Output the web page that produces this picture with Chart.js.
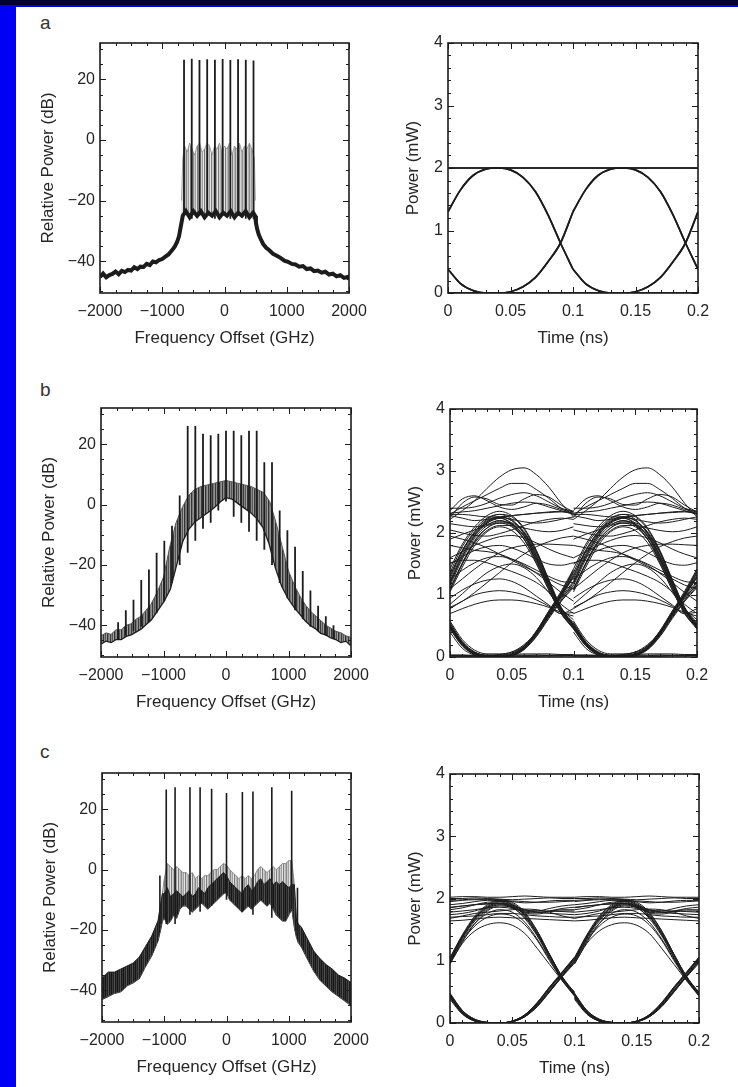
<!DOCTYPE html>
<html>
<head>
<meta charset="utf-8">
<title>WDM spectra and eye diagrams</title>
<script src="https://cdn.jsdelivr.net/npm/chart.js@4.4.1/dist/chart.umd.min.js"></script>
<style>
  html, body { margin: 0; padding: 0; background: #fff; }
  #page { position: relative; width: 738px; height: 1087px; overflow: hidden; background: #fff;
          font-family: "Liberation Sans", Arial, Helvetica, sans-serif; }
  .edge-left { position: absolute; left: 0; top: 0; width: 16px; height: 1087px; background: #0000f5; }
  .edge-top { position: absolute; left: 0; top: 0; width: 738px; height: 5px; background: #000030; }
  .edge-top2 { position: absolute; left: 0; top: 5px; width: 738px; height: 2px; background: #0000e0; }
  .panel { position: absolute; }
  .tag { position: absolute; font-size: 19px; line-height: 19px; color: #333; }
</style>
</head>
<body>
<div id="page">
  <div class="edge-left"></div>
  <div class="edge-top"></div>
  <div class="edge-top2"></div>
  <div class="tag" style="left:40px; top:13px;">a</div>
  <div class="tag" style="left:40px; top:380px;">b</div>
  <div class="tag" style="left:40px; top:742px;">c</div>
</div>
<script>
// ---------------- axis ticks ----------------
const freqTicks = [-2000, -1000, 0, 1000, 2000];
const dbTicks = [-40, -20, 0, 20];
const timeTicks = [0, 0.05, 0.1, 0.15, 0.2];
const powerTicks = [0, 1, 2, 3, 4];

// ---------------- (a) spectrum ----------------
const chanFreqA = [-650, -526, -402, -278, -154, -30, 94, 218, 342, 466];
const chanPeakA = [26.5, 26.8, 26.4, 26.6, 26.5, 26.7, 26.4, 26.6, 26.5, 26.2];
const chanBaseA = [-25, -26, -25, -25, -26, -25, -26, -25, -26, -26];

const floorFreqA = [-2000, -1950, -1900, -1850, -1800, -1750, -1700, -1650, -1600, -1550, -1500, -1450, -1400, -1350, -1300, -1250, -1200, -1150, -1100, -1050, -1000, -950, -900, -850, -800, -760, -730, -710, -690, -670,
  -620, -560, -500, -440, -380, -320, -260, -200, -140, -80, -20, 40, 100, 160, 220, 280, 340, 400, 460,
  490, 505, 525, 550, 580, 620, 670, 720, 780, 840, 900, 960, 1020, 1080, 1140, 1200, 1260, 1320, 1380, 1440, 1500, 1560, 1620, 1680, 1740, 1800, 1860, 1920, 1980, 2000];
const floorDbA = [-45.2, -44.1, -45.3, -44.6, -44.2, -43.4, -44.3, -43.2, -43.6, -42.9, -43.1, -42.0, -42.6, -41.8, -41.9, -40.9, -41.3, -40.1, -40.4, -39.6, -39.3, -38.5, -37.8, -36.6, -35.2, -33.6, -31.7, -29.4, -27.2, -25,
  -23.5, -25.5, -23.5, -25, -23.5, -25.5, -24, -25, -23.5, -25.5, -24, -25, -23.5, -25.5, -24, -25, -23.5, -25.5, -24,
  -25, -27.3, -29.4, -31.2, -32.6, -34.3, -35.6, -36.4, -37.6, -38.2, -38.9, -39.8, -40.2, -40.9, -41.1, -41.8, -41.6, -42.6, -42.4, -43.3, -43.1, -43.8, -43.5, -44.4, -44.1, -45, -44.6, -45.5, -45.2, -46];

const sbFreqA = [-690, -670, -640, -600, -560, -520, -480, -440, -400, -360, -320, -280, -240, -200, -160, -120, -80, -40, 0, 40, 80, 120, 160, 200, 240, 280, 320, 360, 400, 440, 480, 495];
const sbTopA = [-20, -6, -2, -4, -1, -3, -5, -2, -1, -4, -3, -1, -2, -5, -2, -3, -1, -4, -2, -3, -1, -5, -2, -3, -1, -4, -2, -3, -1, -3, -6, -20];
const sbBottomA = [-27, -25, -24, -24, -25, -24, -24, -25, -24, -24, -25, -24, -24, -25, -24, -24, -25, -24, -24, -25, -24, -24, -25, -24, -24, -25, -24, -24, -25, -24, -25, -27];

// ---------------- (b) spectrum ----------------
const chanFreqB = [-1726, -1603, -1480, -1356, -1233, -1110, -987, -864, -741, -613, -491, -368, -245, -123, 0, 123, 245, 368, 491, 613, 736, 859, 982, 1105, 1228, 1351, 1474, 1597, 1720];
const chanPeakB = [-39, -35, -31.5, -25, -21.5, -16, -12, -7, 3, 26, 26, 23.5, 23, 23.5, 24.5, 24.5, 23, 24.5, 24.5, 14, 14, -2, -8.5, -14, -22, -28.5, -33.5, -37, -40];
const chanBaseB = [-44.5, -43.5, -42, -40.5, -39, -36, -32, -26, -20, -16, -12, -8, -6, -2, 1, -4, -6, -9, -12, -15, -20, -26, -31, -35, -38, -40.5, -42, -43.5, -44.5];

const bodyFreqB = [-2000, -1920, -1840, -1760, -1680, -1600, -1520, -1440, -1360, -1280, -1200, -1100, -1000, -900, -800, -700, -600, -500, -400, -300,
  -200, -100, 0, 100, 200, 300, 400, 500, 600, 700, 800, 900, 1000, 1100, 1200, 1280, 1360, 1440, 1520, 1600, 1680, 1760, 1840, 1920, 2000];
const bodyTopB = [-43.5, -42.5, -43, -41.5, -41.5, -40, -39.5, -38, -37, -35, -33, -29, -24, -14, -6, -1, 3, 5, 6, 6.5,
  7, 7.5, 8, 7.5, 7, 6.5, 6, 5, 4, 1, -6, -14, -22, -27, -31, -33.5, -35.5, -37, -38.5, -40, -41, -42, -42.5, -43.5, -44];
const bodyLowB = [-46, -45, -45.5, -44.5, -44.5, -43.5, -43, -42, -41, -39.5, -38, -35, -32, -28, -20, -12, -8, -5.5, -4, -2.5,
  -1, 1, 2.5, 2, 0.5, -1, -2.5, -4.5, -7.5, -13, -21, -27, -31, -34, -36.5, -38.5, -40, -41, -42.5, -43, -44, -44.5, -45.5, -45, -46.5];

// ---------------- (c) spectrum ----------------
const chanFreqC = [-968, -826, -587, -424, -239, 0, 255, 425, 728, 1047];
const chanPeakC = [26.5, 27.3, 27.3, 27.3, 26.8, 25.4, 25.7, 25.9, 27.3, 26.1];
const chanBaseC = [-18, -18, -15, -14, -12, -10, -14, -15, -16, -12];
const spurFreqC = [-1070, 1140];
const spurTopC = [-2, -6];
const spurBaseC = [-18, -22];

const bodyFreqC = [-2000, -1900, -1800, -1700, -1600, -1500, -1400, -1300, -1200, -1100, -1060, -1030,
  -1000, -950, -900, -850, -800, -750, -700, -650, -600, -550, -500, -450, -400, -350, -300, -250, -200, -150, -100, -50,
  0, 50, 100, 150, 200, 250, 300, 350, 400, 450, 500, 550, 600, 650, 700, 750, 800, 850, 900, 950, 1000, 1050,
  1090, 1120, 1150, 1200, 1300, 1400, 1500, 1600, 1700, 1800, 1900, 2000];
const bodyTopC = [-36, -34, -34, -33, -32, -31, -29, -25.5, -22, -17, -12, -8,
  -3, 2, 1, 0, 1, 0, -1, -1, -2, -1, -3, -2, -3, -2, -2, -1, 0, 0, 1, 2,
  1.5, 0, -1, -2, -3, -2, -3, -2, -3, -2, 0, 1, 0, -1, 0, 1, 0, 1, 2, 2, 3, 3,
  -5, -16, -18, -19, -23, -27, -29.5, -31.5, -33, -35, -36, -37.5];
const coreTopC = [-36, -34, -34, -33, -32, -31, -29, -25.5, -22, -17, -12, -8,
  -8, -6, -9, -8, -7, -8, -9, -8, -7, -9, -8, -6, -7, -8, -6, -5, -4, -3, -2, -1,
  -2, -4, -5, -6, -7, -8, -6, -5, -7, -6, -4, -3, -5, -4, -3, -5, -4, -5, -4, -5, -6, -5,
  -5, -16, -18, -19, -23, -27, -29.5, -31.5, -33, -35, -36, -37.5];
const bodyLowC = [-43, -42, -41, -40.5, -38.5, -37.5, -36, -32, -28.5, -23.5, -20, -17,
  -16, -18, -17, -15, -16, -13, -12, -12, -13, -14, -13, -12, -11, -12, -13, -12, -11, -10, -9, -8,
  -7.5, -10, -11, -12, -13, -14, -13, -12, -13, -12, -11, -10, -11, -12, -11, -13, -15, -16, -17, -17, -15, -13,
  -19, -22, -24, -25.5, -29.5, -33.5, -36.5, -38.5, -40.5, -42, -43.5, -45];

// ---------------- eye diagrams: one bit slot, repeated over two slots ----------------
const bitPeriod = 0.1;
const eyeTime = [0, 0.01, 0.02, 0.03, 0.04, 0.05, 0.06, 0.07, 0.08, 0.09, 0.1];

const eyeA = [
  [2, 2, 2, 2, 2, 2, 2, 2, 2, 2, 2],
  [1.3, 1.65, 1.88, 1.98, 2.0, 2.0, 2.0, 2.0, 2.0, 2.0, 2.0],
  [1.3, 1.65, 1.88, 1.98, 2.0, 1.97, 1.85, 1.62, 1.25, 0.8, 0.38],
  [2, 2, 2, 2, 2.0, 1.97, 1.85, 1.62, 1.25, 0.8, 0.38],
  [0.38, 0.15, 0.04, 0, 0, 0.02, 0.1, 0.25, 0.5, 0.8, 1.3],
  [0.38, 0.15, 0.04, 0, 0, 0, 0, 0, 0, 0, 0],
  [0, 0, 0, 0, 0, 0.02, 0.1, 0.25, 0.5, 0.8, 1.3],
  [0, 0, 0, 0, 0, 0, 0, 0, 0, 0, 0]
];

const eyeB = [
  // mark slots between transitions
  [1.15, 1.58, 1.92, 2.12, 2.2, 2.12, 1.9, 1.55, 1.12, 0.75, 0.5],
  [1.3, 1.72, 2.02, 2.22, 2.3, 2.22, 1.98, 1.62, 1.18, 0.78, 0.52],
  [1.05, 1.45, 1.8, 2.02, 2.1, 2.04, 1.84, 1.5, 1.08, 0.7, 0.45],
  [1.42, 1.82, 2.1, 2.28, 2.35, 2.28, 2.08, 1.72, 1.25, 0.8, 0.55],
  [1.22, 1.66, 1.98, 2.18, 2.26, 2.2, 2.02, 1.7, 1.24, 0.8, 0.5],
  [1.1, 1.52, 1.88, 2.08, 2.16, 2.16, 2.0, 1.68, 1.22, 0.78, 0.48],
  [1.18, 1.62, 1.95, 2.16, 2.24, 2.16, 1.95, 1.6, 1.15, 0.76, 0.5],
  [1.26, 1.7, 2.0, 2.18, 2.24, 2.14, 1.9, 1.52, 1.08, 0.7, 0.47],
  [1.08, 1.5, 1.86, 2.08, 2.18, 2.14, 1.96, 1.64, 1.2, 0.78, 0.52],
  [1.36, 1.78, 2.06, 2.24, 2.3, 2.26, 2.06, 1.7, 1.22, 0.78, 0.53],
  [2.28, 2.24, 2.2, 2.22, 2.25, 2.2, 2.0, 1.64, 1.18, 0.76, 0.48],
  [2.15, 2.12, 2.1, 2.14, 2.2, 2.14, 1.94, 1.58, 1.14, 0.74, 0.46],
  [1.9, 1.98, 2.05, 2.12, 2.16, 2.1, 1.9, 1.56, 1.12, 0.72, 0.46],
  [1.2, 1.62, 1.96, 2.16, 2.24, 2.28, 2.3, 2.32, 2.33, 2.34, 2.32],
  [1.32, 1.72, 2.02, 2.2, 2.26, 2.22, 2.18, 2.16, 2.18, 2.22, 2.26],
  [1.1, 1.5, 1.84, 2.04, 2.12, 2.12, 2.08, 2.04, 2.02, 2.04, 2.1],
  // space slots
  [0.52, 0.22, 0.06, 0.01, 0, 0.02, 0.12, 0.34, 0.64, 0.92, 1.2],
  [0.58, 0.28, 0.11, 0.05, 0.05, 0.08, 0.18, 0.4, 0.66, 0.9, 1.12],
  [0.4, 0.14, 0.03, 0, 0.01, 0.04, 0.16, 0.4, 0.72, 1.02, 1.38],
  [0.48, 0.2, 0.05, 0.01, 0, 0.03, 0.14, 0.38, 0.7, 1.0, 1.3],
  [0.55, 0.25, 0.08, 0.02, 0.01, 0.04, 0.15, 0.36, 0.66, 0.96, 1.22],
  [0.5, 0.21, 0.06, 0.02, 0.02, 0.05, 0.17, 0.42, 0.74, 1.06, 1.42],
  [0.47, 0.19, 0.05, 0.01, 0, 0.03, 0.13, 0.36, 0.68, 0.98, 1.28],
  [0.52, 0.23, 0.07, 0.02, 0.01, 0.03, 0.12, 0.33, 0.62, 0.9, 1.15],
  [0.46, 0.18, 0.04, 0, 0, 0.02, 0.14, 0.38, 0.7, 1.0, 1.33],
  [0.5, 0.22, 0.06, 0.02, 0.01, 0.04, 0.15, 0.4, 0.72, 1.02, 1.36],
  [0.45, 0.18, 0.04, 0, 0, 0, 0.01, 0.01, 0.02, 0.02, 0.02],
  [0.5, 0.2, 0.05, 0.01, 0.01, 0.02, 0.02, 0.03, 0.03, 0.03, 0.02],
  [0.55, 0.24, 0.08, 0.03, 0.03, 0.04, 0.05, 0.05, 0.05, 0.04, 0.04],
  [0.02, 0.01, 0.01, 0, 0, 0.03, 0.14, 0.38, 0.7, 0.98, 1.3],
  [0.02, 0.02, 0.02, 0.02, 0.03, 0.06, 0.18, 0.42, 0.74, 1.04, 1.4],
  [0.03, 0.03, 0.03, 0.03, 0.04, 0.08, 0.2, 0.4, 0.68, 0.95, 1.16],
  [0.03, 0.03, 0.02, 0.02, 0.02, 0.03, 0.03, 0.03, 0.02, 0.02, 0.03],
  // overshoot traces above the mark level
  [2.22, 2.36, 2.52, 2.72, 2.9, 3.02, 3.05, 2.94, 2.74, 2.48, 2.26],
  [2.3, 2.42, 2.52, 2.62, 2.72, 2.8, 2.8, 2.7, 2.56, 2.4, 2.3],
  [2.36, 2.55, 2.6, 2.52, 2.42, 2.38, 2.42, 2.48, 2.45, 2.38, 2.34],
  [2.25, 2.48, 2.58, 2.55, 2.46, 2.45, 2.55, 2.62, 2.58, 2.45, 2.34],
  [2.4, 2.4, 2.42, 2.48, 2.56, 2.62, 2.65, 2.6, 2.5, 2.4, 2.35],
  [2.32, 2.34, 2.36, 2.4, 2.44, 2.48, 2.5, 2.48, 2.42, 2.36, 2.3],
  // distorted traces inside the eye
  [0.7, 0.78, 0.85, 0.9, 0.92, 0.92, 0.9, 0.86, 0.8, 0.72, 0.66],
  [0.78, 0.9, 1.0, 1.05, 1.07, 1.05, 1.0, 0.92, 0.82, 0.7, 0.72],
  [0.95, 1.08, 1.18, 1.24, 1.26, 1.22, 1.12, 0.98, 0.84, 0.7, 0.78],
  [0.85, 1.02, 1.2, 1.36, 1.46, 1.5, 1.44, 1.28, 1.04, 0.78, 0.6],
  [1.52, 1.56, 1.56, 1.52, 1.45, 1.38, 1.3, 1.2, 1.05, 0.85, 0.7],
  [1.95, 1.9, 1.84, 1.76, 1.66, 1.56, 1.46, 1.36, 1.26, 1.16, 1.1],
  [1.8, 1.76, 1.72, 1.7, 1.66, 1.58, 1.48, 1.35, 1.2, 1.04, 0.9],
  [0.8, 0.9, 1.04, 1.2, 1.36, 1.52, 1.66, 1.78, 1.86, 1.92, 1.95],
  [1.1, 1.26, 1.42, 1.56, 1.68, 1.76, 1.8, 1.82, 1.82, 1.81, 1.8],
  [1.6, 1.7, 1.8, 1.88, 1.94, 1.96, 1.92, 1.84, 1.74, 1.66, 1.6],
  [2.05, 2.0, 1.96, 1.95, 1.99, 2.05, 2.12, 2.18, 2.22, 2.24, 2.22],
  [2.3, 2.3, 2.28, 2.26, 2.26, 2.28, 2.3, 2.32, 2.34, 2.35, 2.32],
  [1.5, 1.62, 1.72, 1.78, 1.8, 1.76, 1.68, 1.58, 1.5, 1.48, 1.52],
  [1.25, 1.4, 1.52, 1.6, 1.62, 1.58, 1.5, 1.4, 1.3, 1.22, 1.2]
];

const eyeC = [
  // mark level with residual crosstalk
  [2.02, 2.03, 2.03, 2.02, 2.02, 2.03, 2.04, 2.03, 2.02, 2.02, 2.02],
  [2.0, 2.0, 2.01, 2.0, 1.99, 1.98, 1.99, 2.0, 2.01, 2.0, 2.0],
  [1.97, 1.98, 1.99, 1.99, 1.98, 1.95, 1.93, 1.94, 1.96, 1.97, 1.97],
  [1.9, 1.92, 1.95, 1.97, 1.97, 1.9, 1.82, 1.8, 1.84, 1.88, 1.9],
  [1.86, 1.88, 1.9, 1.91, 1.92, 1.86, 1.78, 1.77, 1.8, 1.84, 1.86],
  [1.82, 1.85, 1.9, 1.94, 1.95, 1.87, 1.77, 1.75, 1.79, 1.82, 1.82],
  [1.78, 1.8, 1.82, 1.85, 1.86, 1.84, 1.8, 1.8, 1.8, 1.79, 1.78],
  [1.74, 1.76, 1.8, 1.86, 1.9, 1.88, 1.82, 1.78, 1.76, 1.75, 1.74],
  [1.7, 1.71, 1.72, 1.74, 1.76, 1.76, 1.74, 1.72, 1.71, 1.7, 1.7],
  [1.64, 1.65, 1.67, 1.69, 1.7, 1.69, 1.68, 1.67, 1.66, 1.65, 1.64],
  [1.68, 1.72, 1.76, 1.78, 1.8, 1.82, 1.83, 1.82, 1.78, 1.72, 1.68],
  // transitions
  [1.0, 1.38, 1.68, 1.86, 1.95, 1.96, 1.95, 1.94, 1.94, 1.95, 1.96],
  [0.95, 1.3, 1.6, 1.8, 1.88, 1.86, 1.8, 1.78, 1.79, 1.8, 1.8],
  [1.02, 1.38, 1.66, 1.84, 1.92, 1.86, 1.68, 1.4, 1.05, 0.72, 0.46],
  [0.95, 1.28, 1.48, 1.58, 1.61, 1.57, 1.44, 1.2, 0.94, 0.68, 0.43],
  [1.05, 1.42, 1.72, 1.9, 1.98, 1.94, 1.78, 1.48, 1.1, 0.74, 0.48],
  [0.98, 1.34, 1.6, 1.76, 1.82, 1.78, 1.62, 1.35, 1.02, 0.7, 0.45],
  [1.0, 1.36, 1.64, 1.82, 1.9, 1.85, 1.7, 1.43, 1.08, 0.74, 0.47],
  [1.04, 1.4, 1.7, 1.88, 1.96, 1.9, 1.72, 1.42, 1.04, 0.7, 0.45],
  [0.97, 1.32, 1.56, 1.7, 1.75, 1.72, 1.58, 1.33, 1.0, 0.69, 0.44],
  [1.03, 1.4, 1.68, 1.86, 1.93, 1.89, 1.74, 1.46, 1.1, 0.75, 0.49],
  [1.95, 1.97, 1.98, 1.98, 1.97, 1.92, 1.76, 1.48, 1.1, 0.74, 0.48],
  [1.85, 1.88, 1.9, 1.92, 1.92, 1.88, 1.72, 1.44, 1.08, 0.72, 0.5],
  // space slots
  [0.42, 0.16, 0.04, 0, 0, 0.03, 0.12, 0.3, 0.55, 0.78, 1.02],
  [0.46, 0.19, 0.05, 0.01, 0, 0.02, 0.1, 0.27, 0.5, 0.74, 0.96],
  [0.44, 0.17, 0.04, 0, 0, 0.03, 0.11, 0.29, 0.53, 0.76, 0.99],
  [0.48, 0.2, 0.06, 0.01, 0, 0.02, 0.1, 0.26, 0.5, 0.75, 1.0],
  [0.4, 0.15, 0.03, 0, 0, 0.03, 0.13, 0.32, 0.57, 0.8, 1.04],
  [0.43, 0.17, 0.04, 0, 0, 0.02, 0.11, 0.28, 0.52, 0.76, 1.0],
  [0.45, 0.18, 0.05, 0.01, 0, 0.03, 0.12, 0.31, 0.56, 0.79, 1.03],
  [0.41, 0.15, 0.03, 0, 0, 0.02, 0.1, 0.27, 0.51, 0.75, 0.98],
  [0.47, 0.2, 0.06, 0.01, 0, 0.03, 0.13, 0.33, 0.58, 0.81, 1.05],
  [0.38, 0.14, 0.03, 0, 0, 0, 0, 0, 0, 0, 0],
  [0, 0, 0, 0, 0, 0.03, 0.13, 0.32, 0.58, 0.82, 1.06],
  [0, 0, 0, 0, 0, 0, 0, 0, 0, 0, 0]
];

// ---------------- drawing helpers ----------------
const FONT = '"Liberation Sans", Arial, Helvetica, sans-serif';
const INK = '#1c1c1c';
const TEXT = '#262626';

function fmtSigned(v) { return v < 0 ? '\u2212' + Math.abs(v) : String(v); }

function stripes(colors) {
  const tile = document.createElement('canvas');
  tile.width = colors.length; tile.height = 1;
  const t = tile.getContext('2d');
  colors.forEach((c, i) => { t.fillStyle = c; t.fillRect(i, 0, 1, 1); });
  return document.createElement('canvas').getContext('2d').createPattern(tile, 'repeat');
}

function pts(xs, ys) { return xs.map((x, i) => ({ x: x, y: ys[i] })); }

// vertical carrier lines: base -> peak -> base, broken between channels
function spikes(freq, peak, base) {
  const out = [];
  freq.forEach((f, i) => {
    out.push({ x: f, y: base[i] }, { x: f, y: peak[i] }, { x: f, y: base[i] }, { x: f, y: null });
  });
  return out;
}

// frame with inward major/minor ticks on all four sides
const frameTicks = {
  id: 'frameTicks',
  afterDatasetsDraw(chart, args, opts) {
    const { ctx, chartArea: a, scales: { x, y } } = chart;
    ctx.save();
    ctx.strokeStyle = INK;
    ctx.lineWidth = 1;
    ctx.beginPath();
    const tickX = (v, len) => {
      const p = Math.round(x.getPixelForValue(v)) + 0.5;
      ctx.moveTo(p, a.bottom); ctx.lineTo(p, a.bottom - len);
      ctx.moveTo(p, a.top); ctx.lineTo(p, a.top + len);
    };
    const tickY = (v, len) => {
      const p = Math.round(y.getPixelForValue(v)) + 0.5;
      ctx.moveTo(a.left, p); ctx.lineTo(a.left + len, p);
      ctx.moveTo(a.right, p); ctx.lineTo(a.right - len, p);
    };
    for (let k = Math.ceil(x.min / opts.xMinor - 1e-9); k * opts.xMinor <= x.max + 1e-9; k++) tickX(k * opts.xMinor, 3);
    for (let k = Math.ceil(y.min / opts.yMinor - 1e-9); k * opts.yMinor <= y.max + 1e-9; k++) tickY(k * opts.yMinor, 3);
    x.ticks.forEach(t => tickX(t.value, 6));
    y.ticks.forEach(t => tickY(t.value, 6));
    ctx.stroke();
    ctx.lineWidth = 1.6;
    ctx.strokeRect(a.left, a.top, a.right - a.left, a.bottom - a.top);
    ctx.restore();
  }
};

const Y_AXIS_W = 75, X_AXIS_H = 62, PAD_T = 12, PAD_R = 30;

function makePanel(box, cfg) {
  const div = document.createElement('div');
  div.className = 'panel';
  const w = (box.R - box.L) + Y_AXIS_W + PAD_R;
  const h = (box.B - box.T) + PAD_T + X_AXIS_H;
  div.style.left = (box.L - Y_AXIS_W) + 'px';
  div.style.top = (box.T - PAD_T) + 'px';
  const cv = document.createElement('canvas');
  cv.width = w; cv.height = h;
  cv.style.width = w + 'px'; cv.style.height = h + 'px';
  div.appendChild(cv);
  document.getElementById('page').appendChild(div);

  const tickFont = { family: FONT, size: 16 };
  const titleFont = { family: FONT, size: 17 };
  new Chart(cv.getContext('2d'), {
    type: 'line',
    data: { datasets: cfg.datasets },
    options: {
      responsive: false,
      animation: false,
      events: [],
      devicePixelRatio: 1,
      layout: { padding: { top: PAD_T, right: PAD_R, left: 0, bottom: 0 } },
      elements: { point: { radius: 0 }, line: { tension: 0 } },
      plugins: {
        legend: { display: false },
        tooltip: { enabled: false },
        frameTicks: { xMinor: cfg.xMinor, yMinor: cfg.yMinor }
      },
      scales: {
        x: {
          type: 'linear', min: cfg.xMin, max: cfg.xMax,
          afterBuildTicks: s => { s.ticks = cfg.xTicks.map(v => ({ value: v })); },
          afterFit: s => { s.height = X_AXIS_H; s.paddingLeft = 0; s.paddingRight = 0; },
          ticks: { callback: v => fmtSigned(v), font: tickFont, color: TEXT, padding: 9, maxRotation: 0, autoSkip: false },
          grid: { display: false, drawTicks: false },
          border: { display: false },
          title: { display: true, text: cfg.xTitle, font: titleFont, color: TEXT, padding: { top: 0, bottom: 6 } }
        },
        y: {
          type: 'linear', min: cfg.yMin, max: cfg.yMax,
          afterBuildTicks: s => { s.ticks = cfg.yTicks.map(v => ({ value: v })); },
          afterFit: s => { s.width = Y_AXIS_W; s.paddingTop = 0; s.paddingBottom = 0; },
          ticks: { callback: v => fmtSigned(v), font: tickFont, color: TEXT, padding: 5, autoSkip: false },
          grid: { display: false, drawTicks: false },
          border: { display: false },
          title: { display: true, text: cfg.yTitle, font: titleFont, color: TEXT, padding: { top: cfg.yTitlePad, bottom: 0 } }
        }
      }
    },
    plugins: [frameTicks]
  });
}

function spectrumPanel(box, datasets) {
  makePanel(box, {
    datasets, xMin: -2000, xMax: 2000, yMin: -50.5, yMax: 32,
    xTicks: freqTicks, yTicks: dbTicks, xMinor: 250, yMinor: 5,
    xTitle: 'Frequency Offset (GHz)', yTitle: 'Relative Power (dB)', yTitlePad: 13
  });
}

function eyePanel(box, segs, width) {
  const datasets = [];
  segs.forEach(seg => {
    [0, 1].forEach(k => {
      datasets.push({
        data: eyeTime.map((t, i) => ({ x: t + k * bitPeriod, y: seg[i] })),
        borderColor: INK, borderWidth: width, pointRadius: 0,
        cubicInterpolationMode: 'monotone', fill: false
      });
    });
  });
  makePanel(box, {
    datasets, xMin: 0, xMax: 0.2, yMin: 0, yMax: 4,
    xTicks: timeTicks, yTicks: powerTicks, xMinor: 0.01, yMinor: 0.2,
    xTitle: 'Time (ns)', yTitle: 'Power (mW)', yTitlePad: 30
  });
}

// ---------------- panels ----------------
const greyStreaks = stripes(['#8c8c8c', '#c8c8c8', '#a0a0a0', '#e4e4e4', '#7c7c7c', '#d2d2d2', '#b4b4b4']);
const bodyStreaks = stripes(['#3a3a3a', '#8a8a8a', '#555555', '#a0a0a0', '#333333', '#777777', '#909090']);
const darkStreaks = stripes(['#161616', '#3a3a3a', '#242424', '#4e4e4e', '#1c1c1c', '#333333']);

spectrumPanel({ L: 100, T: 43, R: 349, B: 293 }, [
  { data: spikes(chanFreqA, chanPeakA, chanBaseA), borderColor: INK, borderWidth: 1.8, order: 0 },
  { data: pts(floorFreqA, floorDbA), borderColor: INK, borderWidth: 4, order: 1 },
  { data: pts(sbFreqA, sbTopA), borderColor: '#8a8a8a', borderWidth: 0.8, fill: '+1', backgroundColor: greyStreaks, order: 2 },
  { data: pts(sbFreqA, sbBottomA), borderColor: '#555', borderWidth: 0, order: 3 }
]);

eyePanel({ L: 448, T: 43, R: 698, B: 293 }, eyeA, 1.7);

spectrumPanel({ L: 101, T: 408, R: 351, B: 657 }, [
  { data: spikes(chanFreqB, chanPeakB, chanBaseB), borderColor: INK, borderWidth: 1.8, order: 0 },
  { data: pts(bodyFreqB, bodyTopB), borderColor: '#555', borderWidth: 1, fill: '+1', backgroundColor: bodyStreaks, order: 2 },
  { data: pts(bodyFreqB, bodyLowB), borderColor: INK, borderWidth: 2.6, order: 3 }
]);

eyePanel({ L: 450, T: 409, R: 697, B: 657 }, eyeB, 1.0);

spectrumPanel({ L: 102, T: 773, R: 351, B: 1022 }, [
  { data: spikes(chanFreqC, chanPeakC, chanBaseC).concat(spikes(spurFreqC, spurTopC, spurBaseC)), borderColor: INK, borderWidth: 1.6, order: 0 },
  { data: pts(bodyFreqC, bodyTopC), borderColor: '#777', borderWidth: 0.8, fill: 3, backgroundColor: greyStreaks, order: 2 },
  { data: pts(bodyFreqC, coreTopC), borderColor: INK, borderWidth: 1, fill: 3, backgroundColor: darkStreaks, order: 1 },
  { data: pts(bodyFreqC, bodyLowC), borderColor: INK, borderWidth: 1.2, order: 3 }
]);

eyePanel({ L: 450, T: 774, R: 699, B: 1023 }, eyeC, 1.0);
</script>
</body>
</html>
